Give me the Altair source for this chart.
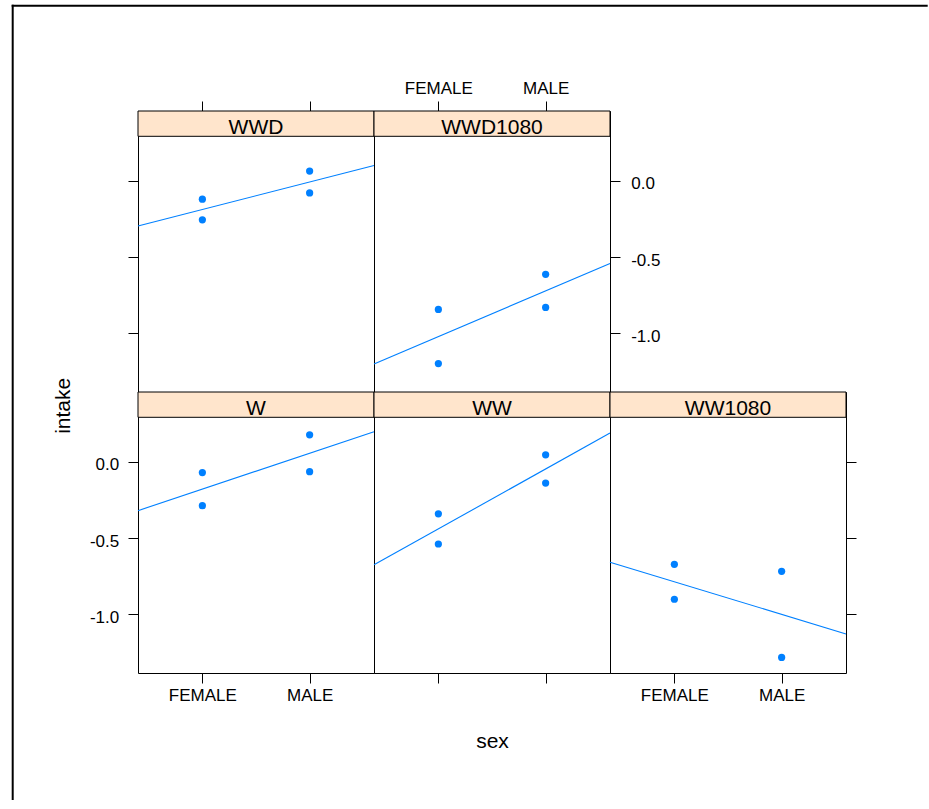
import altair as alt
import pandas as pd

# ---------------- data ----------------
panels = ["WWD", "WWD1080", "W", "WW", "WW1080"]
sex_levels = ["FEMALE", "MALE"]
sex = ["FEMALE", "FEMALE", "MALE", "MALE"]
intake_WWD = [-0.122, -0.257, 0.062, -0.081]
intake_WWD1080 = [-0.844, -1.199, -0.614, -0.831]
intake_W = [-0.072, -0.289, 0.175, -0.066]
intake_WW = [-0.342, -0.540, 0.044, -0.141]
intake_WW1080 = [-0.673, -0.902, -0.719, -1.283]
y_ticks = [0.0, -0.5, -1.0]
x_title = "sex"
y_title = "intake"

values = {
    "WWD": intake_WWD,
    "WWD1080": intake_WWD1080,
    "W": intake_W,
    "WW": intake_WW,
    "WW1080": intake_WW1080,
}

# ---------------- styling ----------------
FONT = "Liberation Sans"
BLUE = "#0080FF"
STRIP = "#FFE5CC"
PW, PH = 236, 281
STRIP_H = 25.3
XDOM = [0.4, 2.6]
YDOM = [-1.385, 0.29]
OX, OY = 138.3, 111  # absolute position of first panel (for the outer frame)

xlabel_expr = f"datum.value == 1 ? '{sex_levels[0]}' : '{sex_levels[1]}'"
ylabel_expr = "datum.value < 0 ? '-' + format(-datum.value, '.1f') : format(datum.value, '.1f')"


def make_df(name):
    return pd.DataFrame({
        "panel": name,
        "sex": sex,
        "x": [sex_levels.index(s) + 1 for s in sex],
        "intake": values[name],
    })


def x_axis(orient, labels, title=""):
    kw = dict(
        orient=orient, values=[1, 2], labels=labels, labelExpr=xlabel_expr,
        tickSize=10, tickColor="black", tickWidth=1, domain=False, grid=False,
        labelFont=FONT, labelFontSize=17, labelColor="black",
        labelBaseline="alphabetic", labelAngle=0, labelOverlap=False,
        labelPadding=(17.7 if orient == "bottom" else 7.7),
        title=title, titleFont=FONT, titleFontSize=21, titleColor="black",
        titleFontWeight="normal",
    )
    if title:
        kw.update(titleX=PW / 2, titleY=74.7, titleBaseline="alphabetic", titleAlign="center")
    return alt.Axis(**kw)


def y_axis(orient, labels, title=""):
    kw = dict(
        orient=orient, values=y_ticks, labels=labels, labelExpr=ylabel_expr,
        tickSize=10, tickColor="black", tickWidth=1, domain=False, grid=False,
        labelFont=FONT, labelFontSize=17, labelColor="black",
        labelBaseline="alphabetic", labelOffset=8.3, labelOverlap=False,
        labelPadding=(9.3 if orient == "left" else 10.7),
        title=title, titleFont=FONT, titleFontSize=21, titleColor="black",
        titleFontWeight="normal",
    )
    if title:
        kw.update(titleX=-68.3, titleY=13.3, titleBaseline="alphabetic",
                  titleAlign="center", titleAngle=270)
    return alt.Axis(**kw)


def panel(name, xax, yax, frame=False):
    df = make_df(name)
    one = pd.DataFrame({"panel": [name]})
    xs = alt.Scale(domain=XDOM, nice=False, zero=False)
    ys = alt.Scale(domain=YDOM, range=[PH, STRIP_H], nice=False, zero=False)
    xenc = alt.X("x:Q", scale=xs, axis=xax)
    if yax is None:
        yenc = alt.Y("intake:Q", scale=ys, axis=None)
    else:
        yenc = alt.Y("intake:Q", scale=ys, axis=yax)

    layers = []
    if frame:
        # outer device frame: left edge and top edge
        layers.append(
            alt.Chart(one).mark_rect(fill="black", strokeWidth=0).encode(
                x=alt.value(12 - OX), x2=alt.value(14 - OX),
                y=alt.value(4.8 - OY), y2=alt.value(800 - OY),
            )
        )
        layers.append(
            alt.Chart(one).mark_rect(fill="black", strokeWidth=0).encode(
                x=alt.value(12 - OX), x2=alt.value(928 - OX),
                y=alt.value(4.8 - OY), y2=alt.value(6.8 - OY),
            )
        )
    strip_rect = alt.Chart(one).mark_rect(fill=STRIP, stroke="black", strokeWidth=1).encode(
        x=alt.value(0), x2=alt.value(PW), y=alt.value(0), y2=alt.value(STRIP_H)
    )
    strip_text = alt.Chart(one).mark_text(
        font=FONT, fontSize=21, baseline="alphabetic", align="center", color="black"
    ).encode(text="panel:N", x=alt.value(PW / 2), y=alt.value(22.7))
    points = alt.Chart(df).mark_circle(size=52, color=BLUE, opacity=1).encode(x=xenc, y=yenc)
    line = alt.Chart(df).transform_regression(
        "x", "intake", extent=XDOM
    ).mark_line(color=BLUE, strokeWidth=1.1).encode(x=xenc, y=yenc)
    layers += [strip_rect, strip_text, line, points]
    return alt.layer(*layers).properties(width=PW, height=PH)


p_wwd = panel("WWD", x_axis("top", False), y_axis("left", False), frame=True)
p_wwd1080 = panel("WWD1080", x_axis("top", True), y_axis("right", True))
blank = alt.Chart(pd.DataFrame({"a": [0]})).mark_point(opacity=0).encode(
    x=alt.value(0), y=alt.value(0)
).properties(width=PW, height=PH, view=alt.ViewBackground(stroke="transparent"))
p_w = panel("W", x_axis("bottom", True), y_axis("left", True, y_title))
p_ww = panel("WW", x_axis("bottom", False, x_title), None)
p_ww1080 = panel("WW1080", x_axis("bottom", True), y_axis("right", False))

chart = alt.concat(
    p_wwd, p_wwd1080, blank, p_w, p_ww, p_ww1080,
    columns=3, spacing=0, bounds="flush",
).properties(
    padding={"left": 11, "top": 4, "right": 0, "bottom": 0},
    background="white",
).configure_view(stroke="black", strokeWidth=1)

chart.save("out.html", embed_options={"renderer": "svg", "actions": False})
